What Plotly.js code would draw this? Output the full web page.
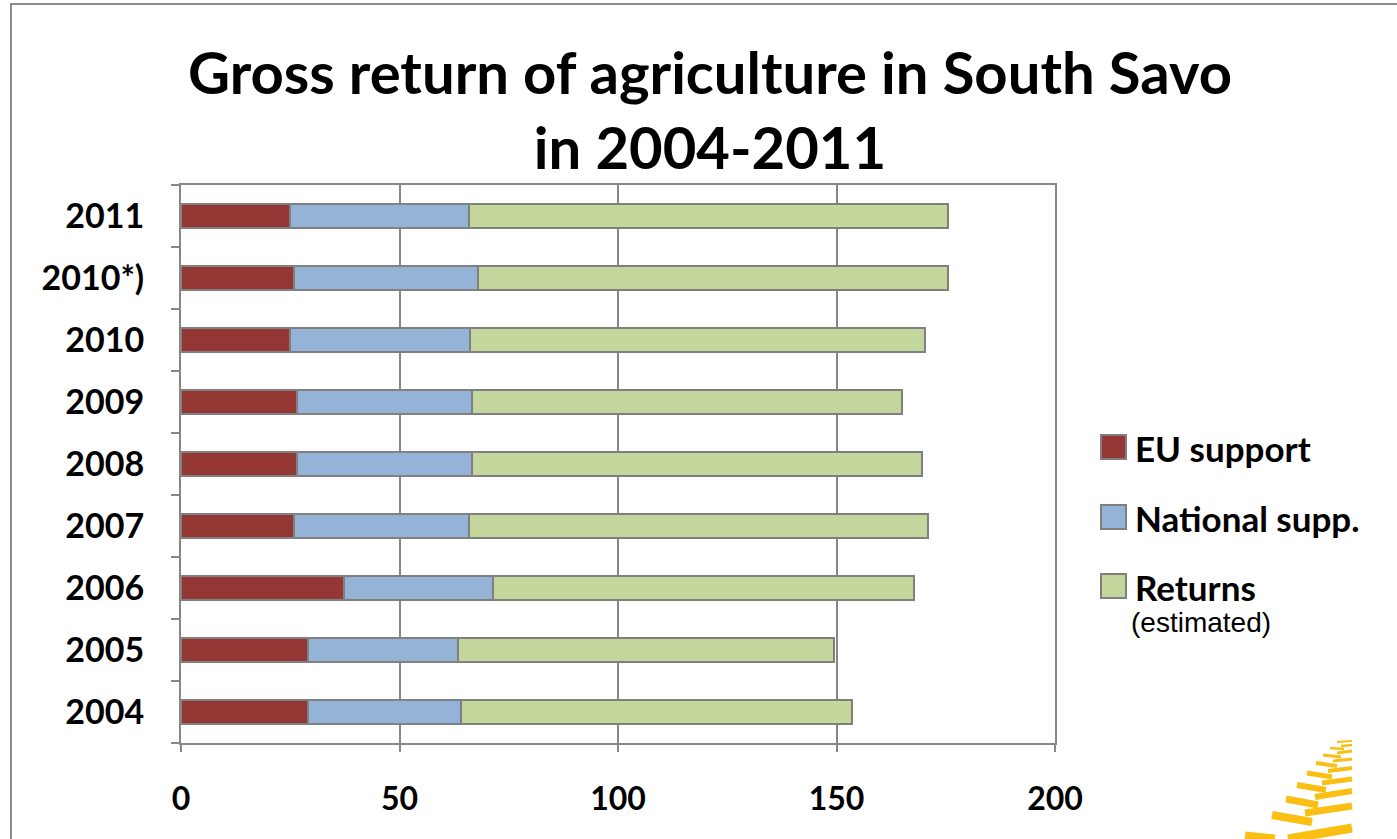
<!DOCTYPE html>
<html>
<head>
<meta charset="utf-8">
<script src="https://cdn.plot.ly/plotly-3.0.1.min.js"></script>
<style>
  html, body { margin: 0; padding: 0; background: #fff; }
  #chart { width: 1397px; height: 839px; }
</style>
</head>
<body>
<div id="chart"></div>
<script>
// ---- data ----
var years = ['2004', '2005', '2006', '2007', '2008', '2009', '2010', '2010*)', '2011'];
var euSupport = [29.1, 29.1, 37.2, 25.9, 26.5, 26.5, 25.0, 25.8, 25.0];
var nationalSupp = [34.9, 34.3, 34.2, 40.1, 40.2, 40.2, 41.1, 42.2, 40.9];
var returnsEst = [89.6, 86.1, 96.3, 105.0, 102.9, 98.2, 104.2, 107.6, 109.7];
var seriesNames = ['EU support', 'National supp.', 'Returns'];
var seriesNote = '(estimated)';
var xTicks = [0, 50, 100, 150, 200];
var titleText = 'Gross return of agriculture in South Savo<br>in 2004-2011';

var colors = ['#953735', '#95B3D7', '#C3D69B'];
var outline = '#808080';

// plot area geometry (pixels)
var W = 1397, H = 839;
var L = 181, R = 1055, T = 185, B = 743;
var pw = R - L, ph = B - T;
function px(x) { return (x - L) / pw; }
function py(y) { return (B - y) / ph; }

var seriesVals = [euSupport, nationalSupp, returnsEst];
var traces = seriesVals.map(function (vals, i) {
  return {
    type: 'bar',
    orientation: 'h',
    y: years,
    x: vals,
    name: seriesNames[i],
    marker: { color: colors[i], line: { color: outline, width: 2 } },
    hoverinfo: 'x+y+name'
  };
});

var shapes = [];
var annotations = [];

// outer frame
shapes.push({
  type: 'rect', xref: 'paper', yref: 'paper',
  x0: px(11), x1: px(1420), y0: py(4), y1: py(860),
  line: { color: '#8c8c8c', width: 2 }, fillcolor: 'rgba(0,0,0,0)', layer: 'below'
});

// custom legend
var legY = [447, 517, 586];
for (var i = 0; i < 3; i++) {
  shapes.push({
    type: 'rect', xref: 'paper', yref: 'paper',
    x0: px(1101), x1: px(1126), y0: py(legY[i] - 12), y1: py(legY[i] + 12),
    fillcolor: colors[i], line: { color: '#7f7f7f', width: 2 }
  });
  annotations.push({
    xref: 'paper', yref: 'paper', x: px(1133), y: py(legY[i] + 1),
    xanchor: 'left', yanchor: 'middle', showarrow: false,
    text: seriesNames[i],
    font: { family: 'Lato', size: 35, color: '#000', weight: 700 }
  });
}
annotations.push({
  xref: 'paper', yref: 'paper', x: px(1129), y: py(622),
  xanchor: 'left', yanchor: 'middle', showarrow: false,
  text: seriesNote,
  font: { family: 'Liberation Sans', size: 28, color: '#000' }
});

// decorative logo strokes (bottom right)
var logoStrokes = [
  [1245, 836, 1275, 839, 9], [1288, 839, 1352, 828, 9],
  [1272, 815, 1312, 822, 8], [1305, 813, 1352, 806, 7],
  [1286, 799, 1318, 805, 7], [1315, 797, 1352, 791, 6],
  [1297, 785, 1326, 790, 6], [1322, 783, 1352, 779, 5],
  [1307, 773, 1332, 777, 5], [1328, 771, 1352, 768, 4],
  [1316, 763, 1337, 766, 4], [1333, 761, 1352, 759, 3],
  [1323, 755, 1341, 757, 3], [1337, 753, 1352, 751, 3],
  [1330, 748, 1344, 749, 2.5], [1341, 746, 1352, 745, 2.5],
  [1337, 742, 1352, 741, 2]
];
logoStrokes.forEach(function (s) {
  shapes.push({
    type: 'line', xref: 'paper', yref: 'paper',
    x0: px(s[0]), y0: py(s[1]), x1: px(s[2]), y1: py(s[3]),
    line: { color: '#F9C013', width: s[4] }
  });
});

var layout = {
  width: W, height: H,
  margin: { l: L, r: W - R, t: T, b: H - B, pad: 0 },
  paper_bgcolor: '#ffffff', plot_bgcolor: '#ffffff',
  barmode: 'stack',
  bargap: 0.61,
  showlegend: false,
  title: {
    text: titleText,
    xref: 'container', x: 710 / W, xanchor: 'center',
    yref: 'container', y: 1 - 94 / H, yanchor: 'top',
    font: { family: 'Lato', size: 58, color: '#000', weight: 700 }
  },
  xaxis: {
    range: [0, 200],
    tickvals: xTicks,
    ticktext: xTicks.map(String),
    showgrid: true, gridcolor: '#878787', gridwidth: 2,
    zeroline: false,
    showline: true, linecolor: '#878787', linewidth: 2, mirror: true,
    ticks: 'outside', ticklen: 7, tickwidth: 2, tickcolor: '#878787',
    ticklabelstandoff: 20,
    tickfont: { family: 'Lato', size: 32, color: '#000', weight: 700 },
    fixedrange: true
  },
  yaxis: {
    type: 'category',
    categoryorder: 'array', categoryarray: years,
    tickson: 'boundaries',
    showgrid: false, zeroline: false,
    showline: true, linecolor: '#878787', linewidth: 2, mirror: true,
    ticks: 'outside', ticklen: 8, tickwidth: 2, tickcolor: '#878787',
    ticklabelstandoff: 28,
    tickfont: { family: 'Lato', size: 34, color: '#000', weight: 700 },
    fixedrange: true
  },
  shapes: shapes,
  annotations: annotations
};

Plotly.newPlot('chart', traces, layout, { displayModeBar: false, staticPlot: false });
</script>
</body>
</html>
